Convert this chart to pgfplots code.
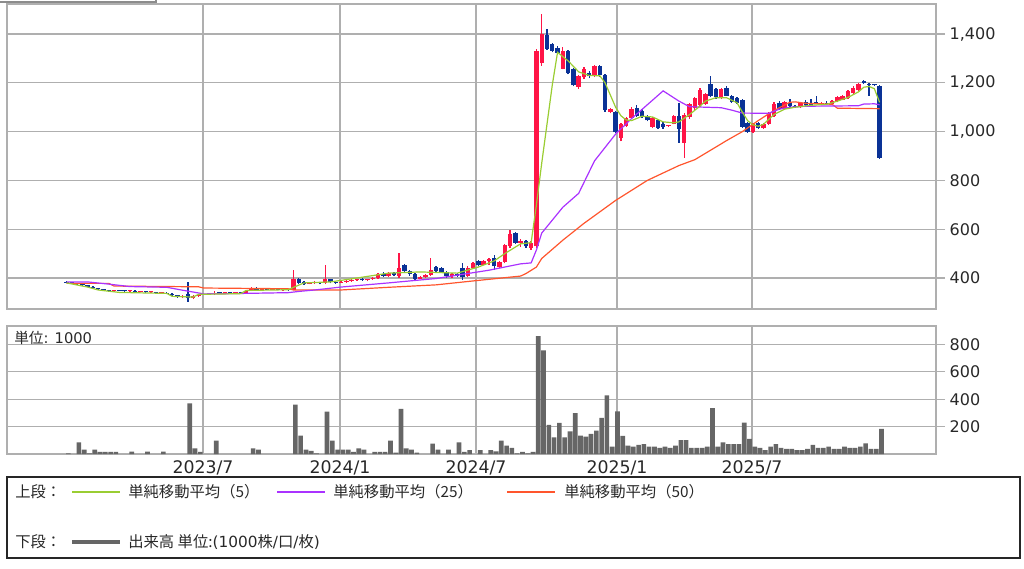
\documentclass[border=0pt]{standalone}
\usepackage{fontspec}
\setmainfont{DejaVu Sans}
\newfontfamily\jp{Noto Sans CJK JP}
\usepackage{pgfplots}
\usepackage{pgfplotstable}
\pgfplotsset{compat=1.18}

\definecolor{cUp}{RGB}{255,20,70}
\definecolor{cDn}{RGB}{10,50,150}
\definecolor{cMAa}{RGB}{154,205,50}
\definecolor{cMAb}{RGB}{170,50,255}
\definecolor{cMAc}{RGB}{255,85,45}
\definecolor{cVol}{RGB}{102,102,102}
\definecolor{cGrid}{RGB}{175,175,175}
\definecolor{cTxt}{RGB}{40,40,40}

% weekly candles: index, open, high, low, close
\pgfplotstableread{
i o h l c
0 384 386 379 381
1 381 383 377 379
2 379 381 372 374
3 374 376 368 370
4 370 371 362 364
5 364 366 356 358
6 358 360 352 354
7 354 356 346 348
8 348 350 344 346
9 346 352 344 350
10 350 351 345 347
11 347 349 343 345
12 345 350 343 348
13 348 349 341 343
14 343 347 341 345
15 345 346 339 341
16 341 345 338 343
17 343 344 337 338
18 338 342 335 340
19 340 341 333 335
20 335 337 328 330
21 330 332 320 323
22 323 330 318 326
23 335 385 302 318
24 318 330 314 326
25 326 335 322 332
26 332 334 330 333
27 333 336 331 334
28 334 345 331 340
29 340 341 336 338
30 338 340 336 339
31 339 341 337 338
32 338 342 336 341
33 341 344 338 340
34 340 350 339 348
35 348 362 346 358
36 360 362 350 352
37 352 360 350 356
38 356 358 350 353
39 353 358 351 356
40 356 357 349 350
41 350 355 348 353
42 353 356 348 352
43 352 432 350 398
44 398 400 375 380
45 382 388 372 376
46 376 384 374 381
47 381 386 377 383
48 383 385 374 378
49 378 453 375 396
50 396 398 378 382
51 382 386 376 380
52 380 386 378 384
53 384 392 380 388
54 388 395 384 392
55 392 398 388 395
56 395 400 388 390
57 390 398 386 396
58 396 404 392 400
59 400 420 398 415
60 418 426 405 410
61 410 424 406 420
62 420 424 408 412
63 408 502 402 440
64 452 458 420 428
65 428 432 410 418
66 418 422 392 398
67 398 410 395 406
68 406 415 400 412
69 412 482 410 432
70 445 450 425 428
71 440 445 420 424
72 424 428 402 408
73 408 420 400 416
74 416 420 405 410
75 440 461 392 405
76 408 448 405 440
77 440 465 435 460
78 470 475 450 455
79 455 475 452 470
80 470 480 455 476
81 482 494 433 448
82 445 470 441 465
83 465 540 460 535
84 530 596 525 582
85 585 590 540 545
86 545 560 527 552
87 552 556 525 530
88 525 550 514 545
89 530 1340 522 1330
90 1280 1482 1270 1400
91 1395 1420 1335 1340
92 1360 1365 1325 1332
93 1342 1350 1315 1322
94 1258 1345 1255 1330
95 1330 1336 1235 1240
96 1256 1262 1185 1190
97 1184 1232 1176 1228
98 1222 1265 1215 1258
99 1242 1248 1220 1226
100 1228 1275 1225 1268
101 1270 1275 1225 1230
102 1230 1236 1082 1088
103 1080 1098 1075 1094
104 1080 1086 995 998
105 975 1036 960 1030
106 1025 1060 1020 1055
107 1055 1100 1050 1092
108 1098 1108 1060 1065
109 1086 1092 1055 1060
110 1066 1070 1042 1046
111 1018 1060 1014 1056
112 1046 1050 1010 1014
113 1032 1040 1012 1020
114 1022 1028 1018 1026
115 1033 1070 1030 1065
116 1065 1118 955 1012
117 955 1075 893 1070
118 1058 1118 1052 1112
119 1095 1142 1090 1138
120 1108 1178 1100 1172
121 1115 1160 1110 1155
122 1196 1229 1140 1148
123 1175 1180 1135 1140
124 1140 1180 1135 1175
125 1180 1185 1145 1148
126 1146 1150 1118 1120
127 1138 1142 1115 1118
128 1130 1135 1015 1020
129 1035 1040 995 998
130 998 1035 995 1030
131 1037 1040 1012 1016
132 1016 1035 1012 1030
133 1033 1082 1028 1078
134 1065 1120 1060 1115
135 1118 1125 1090 1094
136 1094 1125 1090 1120
137 1118 1132 1100 1105
138 1105 1110 1098 1102
139 1100 1122 1098 1118
140 1122 1128 1105 1108
141 1116 1132 1106 1110
142 1120 1145 1112 1114
143 1114 1122 1108 1118
144 1118 1124 1110 1112
145 1112 1130 1108 1125
146 1125 1145 1120 1140
147 1130 1150 1128 1146
148 1138 1172 1135 1168
149 1160 1185 1155 1180
150 1170 1200 1165 1196
151 1208 1212 1195 1198
152 1196 1198 1148 1192
153 1194 1196 1188 1190
154 1188 1190 888 892
}\candles

% simple moving averages
\pgfplotstableread{
i v
0 380
4 363
6 351
10 341
19 337
20 325
24 322
25 333
33 336
34 349
42 352
43 362
45 380
50 384
55 400
61 420
67 425
74 420
78 445
81 470
83 500
86 540
88 545
89 700
90 870
91 1030
92 1190
93 1325
95 1290
97 1245
99 1230
101 1229
102 1200
103 1150
104 1100
105 1065
106 1048
107 1045
109 1063
111 1060
113 1040
115 1036
116 1040
118 1070
120 1105
121 1125
123 1139
125 1139
127 1118
128 1080
129 1045
130 1028
131 1022
132 1030
134 1070
136 1092
138 1100
141 1108
144 1112
146 1125
148 1140
150 1163
151 1182
152 1185
153 1176
154 1120
}\maFive

\pgfplotstableread{
i v
0 384
4 384
8 375
12 365
19 362
22 350
26 335
31 336
42 340
44 345
47 351
52 363
61 380
70 398
80 432
86 458
88 462
89 515
90 584
94 690
97 747
100 880
104 990
107 1053
113 1167
116 1125
118 1102
124 1098
126 1088
128 1076
133 1075
135 1092
137 1100
140 1104
150 1106
151 1113
153 1114
154 1110
}\maTwentyFive

\pgfplotstableread{
i v
0 378
8 378
9 367
25 364
26 359
42 356
43 351
52 351
61 362
70 372
77 388
86 408
87 418
89 445
90 480
94 555
98 624
104 718
110 800
116 861
119 885
125 963
128 1000
130 1030
131 1045
133 1073
135 1098
137 1120
138 1122
140 1116
143 1114
145 1112
146 1096
154 1094
}\maFifty

% weekly volume, thousands
\pgfplotstableread{
i v
0 5
2 85
3 32
4 5
5 32
6 15
7 15
8 15
9 15
12 18
15 18
18 18
23 370
24 41
25 15
28 97
35 41
36 32
43 360
44 134
45 32
46 22
47 5
49 310
50 97
51 32
52 32
53 32
54 15
55 41
56 32
58 15
59 15
60 15
61 97
62 10
63 330
64 41
65 32
66 10
69 76
70 32
72 32
74 85
75 15
76 29
78 29
80 29
81 20
82 98
83 61
84 44
85 5
86 15
87 5
88 15
89 861
90 756
91 212
92 122
93 227
94 122
95 166
96 298
97 134
98 127
99 146
100 171
101 264
102 427
103 54
104 312
105 132
106 61
107 54
108 66
109 73
110 54
111 54
112 44
113 54
114 44
115 61
116 102
117 102
118 44
119 44
120 44
121 54
122 334
123 54
124 85
125 73
126 73
127 73
128 229
129 110
130 54
131 44
132 29
133 54
134 73
135 44
136 37
137 37
138 29
139 29
140 37
141 66
142 44
143 44
144 54
145 37
146 37
147 54
148 44
149 44
150 54
151 78
152 37
153 37
154 183
}\volume

\pgfplotsset{
  panel/.style={
    scale only axis, width=696.75pt, anchor=north west,
    xmin=-11.27, xmax=164.68,
    axis line style={cGrid, line width=0.9pt},
    grid=major, grid style={cGrid, line width=0.8pt},
    xtick={25.85,51.8,77.56,104.26,129.83}, xtick style={draw=none},
    ytick pos=right, yticklabel pos=right,
    tick align=outside, major tick length=6.75pt,
    ytick style={cGrid, line width=0.8pt},
    tick label style={font=\fontsize{12}{12}\selectfont, text=cTxt},
    /pgf/number format/assume math mode=true,
    /pgf/number format/1000 sep={,},
  },
  wick/.style={draw=none, mark=none, forget plot,
    error bars/.cd, y dir=plus, y explicit, error mark=none,
    error bar style={draw=#1, line width=1pt}},
  body/.style={draw=none, mark=none, forget plot,
    error bars/.cd, y dir=plus, y explicit, error mark=none,
    error bar style={draw=#1, line width=3.3pt}},
}

\begin{document}
\begin{tikzpicture}[x=0.75pt,y=-0.75pt]
\path[use as bounding box] (0,0) rectangle (1024,568);
\draw[cGrid!80!black, line width=0.8pt] (0,2) -- (156,2) -- (156,0);

% price panel
\begin{axis}[panel, at={(5.25pt,-3pt)}, height=228.75pt,
  ymin=273, ymax=1523, ytick={400,600,...,1400}, xticklabels={}]
\addplot[restrict expr to domain={\thisrow{c}-\thisrow{o}}{0:5000}, wick=cUp]
  table[x=i, y=l, y error plus expr=\thisrow{h}-\thisrow{l}] {\candles};
\addplot[restrict expr to domain={\thisrow{c}-\thisrow{o}}{-5000:-0.5}, wick=cDn]
  table[x=i, y=l, y error plus expr=\thisrow{h}-\thisrow{l}] {\candles};
\addplot[restrict expr to domain={\thisrow{c}-\thisrow{o}}{0:5000}, body=cUp]
  table[x=i, y=o, y error plus expr={max(\thisrow{c}-\thisrow{o},4)}] {\candles};
\addplot[restrict expr to domain={\thisrow{c}-\thisrow{o}}{-5000:-0.5}, body=cDn]
  table[x=i, y=c, y error plus expr={max(\thisrow{o}-\thisrow{c},4)}] {\candles};
\addplot[cMAc, line width=0.9pt, mark=none] table[x=i, y=v] {\maFifty};
\addplot[cMAb, line width=0.9pt, mark=none] table[x=i, y=v] {\maTwentyFive};
\addplot[cMAa, line width=0.9pt, mark=none] table[x=i, y=v] {\maFive};
\end{axis}

% volume panel
\begin{axis}[panel, at={(5.25pt,-244.5pt)}, height=96pt,
  ymin=0, ymax=934, ytick={200,400,600,800},
  xticklabels={2023/7,2024/1,2024/7,2025/1,2025/7},
  xticklabel style={font=\fontsize{13}{13}\selectfont, yshift=5.25pt}]
\addplot[ybar, bar width=0.88, bar shift=0.35, fill=cVol, draw=none]
  table[x=i, y=v] {\volume};
\end{axis}
\node[anchor=west, inner sep=0pt, text=cTxt, font=\fontsize{11}{11}\selectfont]
  at (14,338) {{\jp 単位}: 1000};

% legend box
\draw[black!85, line width=1.1pt] (7,477) rectangle (1020,558);
\begin{scope}[every node/.style={anchor=west, inner sep=0pt, text=cTxt,
    font=\fontsize{11.5}{11.5}\selectfont\jp}]
\node at (15,492) {上段：};
\draw[cMAa, line width=0.9pt] (72,492) -- (120,492);
\node at (128,492) {単純移動平均（5）};
\draw[cMAb, line width=0.9pt] (277,492) -- (325,492);
\node at (333,492) {単純移動平均（25）};
\draw[cMAc, line width=0.9pt] (507,492) -- (555,492);
\node at (564,492) {単純移動平均（50）};
\node at (15,542) {下段：};
\draw[cVol, line width=2.6pt] (72,542) -- (120,542);
\node at (128,542) {出来高 単位:{\fontspec{DejaVu Sans}(1000}株{\fontspec{DejaVu Sans}/}口{\fontspec{DejaVu Sans}/}枚{\fontspec{DejaVu Sans})}};
\end{scope}
\end{tikzpicture}
\end{document}
